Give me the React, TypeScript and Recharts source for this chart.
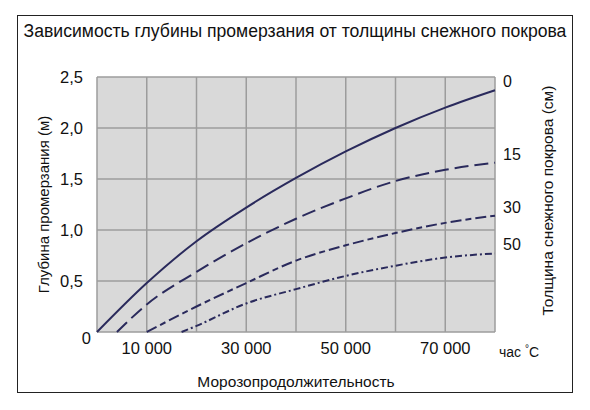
import { LineChart, Line, XAxis, YAxis, CartesianGrid } from 'recharts';

const xTicks = [0, 10000, 20000, 30000, 40000, 50000, 60000, 70000, 80000];
const xLabels = [10000, 30000, 50000, 70000];
const yTicks = [0, 0.5, 1, 1.5, 2, 2.5];

const snowDepths = ['0', '15', '30', '50'];

const curve0X = [0, 10000, 20000, 30000, 40000, 50000, 60000, 70000, 80000];
const curve0Y = [0, 0.48, 0.89, 1.22, 1.51, 1.77, 2.0, 2.2, 2.37];
const curve15X = [4000, 10000, 20000, 30000, 40000, 50000, 60000, 70000, 80000];
const curve15Y = [0, 0.27, 0.59, 0.87, 1.11, 1.31, 1.48, 1.59, 1.66];
const curve30X = [10000, 20000, 30000, 40000, 50000, 60000, 70000, 80000];
const curve30Y = [0, 0.25, 0.48, 0.7, 0.85, 0.97, 1.07, 1.14];
const curve50X = [17000, 20000, 30000, 40000, 50000, 60000, 70000, 80000];
const curve50Y = [0, 0.06, 0.28, 0.42, 0.55, 0.65, 0.73, 0.77];

const toPoints = (xs: number[], ys: number[]) => xs.map((x, i) => ({ x, y: ys[i] }));

const series = [
  { name: snowDepths[0], data: toPoints(curve0X, curve0Y), dash: undefined },
  { name: snowDepths[1], data: toPoints(curve15X, curve15Y), dash: '14 6' },
  { name: snowDepths[2], data: toPoints(curve30X, curve30Y), dash: '11 4 6 4' },
  { name: snowDepths[3], data: toPoints(curve50X, curve50Y), dash: '7 3 2 3' },
];

const LINE = '#2a2a5c';
const FONT = '"Liberation Sans", Arial, sans-serif';

function XTick({ x, y, payload }: any) {
  const v = payload.value;
  if (v === 80000) {
    return (
      <text x={x + 4} y={y + 17} textAnchor="start" fontSize={14} fill="#111">
        час <tspan dy={-5} fontSize={10}>°</tspan><tspan dy={5}>C</tspan>
      </text>
    );
  }
  if (!xLabels.includes(v)) return <g />;
  return (
    <text x={x} y={y + 14} textAnchor="middle" fontSize={16.5} fill="#111">
      {v.toLocaleString('ru-RU').replace(/\s/g, ' ')}
    </text>
  );
}

function YTick({ x, y, payload }: any) {
  const v = payload.value;
  if (v === 0) {
    return (
      <text x={x + 2} y={y + 12} textAnchor="end" fontSize={16.5} fill="#111">0</text>
    );
  }
  return (
    <text x={x - 6} y={y + 6} textAnchor="end" fontSize={16.5} fill="#111">
      {v.toFixed(1).replace('.', ',')}
    </text>
  );
}

const endLabel = (text: string, last: number) => (p: any) =>
  p.index === last ? (
    <text key={text} x={p.x + 8} y={p.y - 3} fontSize={16} fill="#111" fontFamily={FONT}>
      {text}
    </text>
  ) : (
    <g key={`e${p.index}`} />
  );

export default function App() {
  return (
    <div style={{ position: 'absolute', left: 0, top: 0, width: 590, height: 410, background: '#fff', fontFamily: FONT }}>
      <div
        style={{
          position: 'absolute', left: 17, top: 15, width: 554, height: 376,
          border: '1.5px solid #222',
        }}
      />
      <div
        style={{
          position: 'absolute', left: 17, top: 21, width: 556, textAlign: 'center',
          fontSize: 17.6, color: '#111', whiteSpace: 'nowrap',
        }}
      >
        Зависимость глубины промерзания от толщины снежного покрова
      </div>
      <div style={{ position: 'absolute', left: 0, top: 0 }}>
        <LineChart width={590} height={410} margin={{ top: 77, right: 0, bottom: 0, left: 0 }} style={{ fontFamily: FONT }}>
          <CartesianGrid fill="#d9d9d9" stroke="#9c9c9c" strokeWidth={1.5} />
          <XAxis
            type="number"
            dataKey="x"
            domain={[0, 80000]}
            ticks={xTicks}
            height={78}
            axisLine={false}
            tickLine={false}
            tick={<XTick />}
            interval={0}
            label={{ value: 'Морозопродолжительность', position: 'insideBottom', offset: 23, fontSize: 15.5, fill: '#111' }}
          />
          <YAxis
            domain={[0, 2.5]}
            ticks={yTicks}
            width={97}
            axisLine={false}
            tickLine={false}
            tick={<YTick />}
            interval={0}
            label={{
              content: ({ viewBox }: any) => (
                <text
                  x={43}
                  y={viewBox.y + viewBox.height / 2}
                  transform={`rotate(-90 43 ${viewBox.y + viewBox.height / 2})`}
                  textAnchor="middle"
                  dominantBaseline="central"
                  fontSize={15}
                  fill="#111"
                >
                  Глубина промерзания (м)
                </text>
              ),
            }}
          />
          <YAxis
            yAxisId="r"
            orientation="right"
            domain={[0, 2.5]}
            width={95}
            axisLine={false}
            tickLine={false}
            tick={false}
            label={{
              content: ({ viewBox }: any) => (
                <text
                  x={547}
                  y={viewBox.y + viewBox.height / 2 - 4}
                  transform={`rotate(-90 547 ${viewBox.y + viewBox.height / 2 - 4})`}
                  textAnchor="middle"
                  dominantBaseline="central"
                  fontSize={15.5}
                  fill="#111"
                >
                  Толщина снежного покрова (см)
                </text>
              ),
            }}
          />
          {series.map((s) => (
            <Line
              key={s.name}
              data={s.data}
              dataKey="y"
              type="monotone"
              stroke={LINE}
              strokeWidth={2}
              strokeDasharray={s.dash}
              dot={false}
              activeDot={false}
              isAnimationActive={false}
              label={endLabel(s.name, s.data.length - 1)}
            />
          ))}
        </LineChart>
      </div>
    </div>
  );
}
